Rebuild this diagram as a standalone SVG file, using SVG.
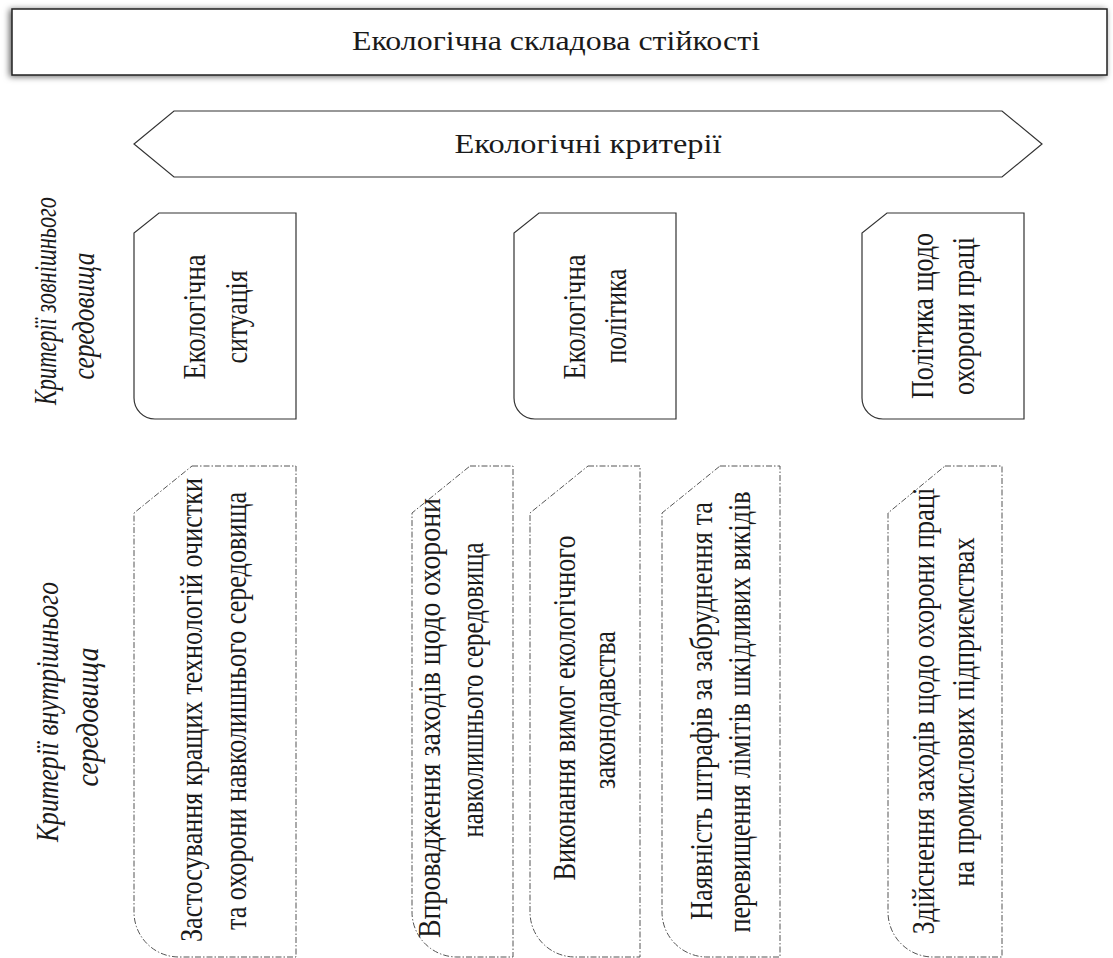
<svg xmlns="http://www.w3.org/2000/svg" width="1113" height="958" viewBox="0 0 1113 958">
<defs>
<filter id="sh" x="-5%" y="-40%" width="110%" height="180%">
<feDropShadow dx="-2" dy="1" stdDeviation="3" flood-color="#000" flood-opacity="0.6"/>
</filter>
</defs>
<style>
text{font-family:'Liberation Serif','Times New Roman',serif;fill:#1a1a1a;}
.h{font-size:27px;text-anchor:middle;}
.v{font-size:32px;text-anchor:middle;}
.i{font-size:31px;font-style:italic;text-anchor:middle;}
.solid{fill:#fff;stroke:#333;stroke-width:1.2;}
.dash{fill:#fff;stroke:#555;stroke-width:1;stroke-dasharray:6 2 1.5 2;}
</style>
<rect width="1113" height="958" fill="#fff"/>
<g id="title">
<rect x="12" y="9" width="1095" height="66" fill="#fff" stroke="#222" stroke-width="1.5" filter="url(#sh)"/>
<text class="h" x="556" y="50" textLength="408" lengthAdjust="spacingAndGlyphs">Екологічна складова стійкості</text>
</g>
<g id="criteria">
<polygon points="174,111 1002,111 1042,144 1002,177 174,177 134,144" fill="#fff" stroke="#333" stroke-width="1.2"/>
<text class="h" x="588" y="153" textLength="267" lengthAdjust="spacingAndGlyphs">Екологічні критерії</text>
</g>
<g id="label-external">
<text class="i" transform="translate(56,301) rotate(-90)" textLength="208" lengthAdjust="spacingAndGlyphs">Критерії зовнішнього</text>
<text class="i" transform="translate(94,316) rotate(-90)" textLength="127" lengthAdjust="spacingAndGlyphs">середовища</text>
</g>
<g id="label-internal">
<text class="i" transform="translate(58,712) rotate(-90)" textLength="260" lengthAdjust="spacingAndGlyphs">Критерії внутрішнього</text>
<text class="i" transform="translate(98,717) rotate(-90)" textLength="139" lengthAdjust="spacingAndGlyphs">середовища</text>
</g>
<g id="ext-1">
<path class="solid" d="M159,213 H296 V419 H155 A21 21 0 0 1 134,398 V233 Z"/>
<text class="v" transform="translate(205,317) rotate(-90)" textLength="125" lengthAdjust="spacingAndGlyphs">Екологічна</text>
<text class="v" transform="translate(247,317) rotate(-90)" textLength="93" lengthAdjust="spacingAndGlyphs">ситуація</text>
</g>
<g id="ext-2">
<path class="solid" d="M539,213 H676 V419 H535 A21 21 0 0 1 514,398 V233 Z"/>
<text class="v" transform="translate(585,317) rotate(-90)" textLength="125" lengthAdjust="spacingAndGlyphs">Екологічна</text>
<text class="v" transform="translate(626,316) rotate(-90)" textLength="95" lengthAdjust="spacingAndGlyphs">політика</text>
</g>
<g id="ext-3">
<path class="solid" d="M887,213 H1024 V419 H883 A21 21 0 0 1 862,398 V233 Z"/>
<text class="v" transform="translate(933,316) rotate(-90)" textLength="166" lengthAdjust="spacingAndGlyphs">Політика щодо</text>
<text class="v" transform="translate(974,316) rotate(-90)" textLength="158" lengthAdjust="spacingAndGlyphs">охорони праці</text>
</g>
<g id="int-1">
<path class="dash" d="M192,466 H296 V957 H179 A45 45 0 0 1 134,912 V513 Z"/>
<text class="v" transform="translate(202,710) rotate(-90)" textLength="464" lengthAdjust="spacingAndGlyphs">Застосування кращих технологій очистки</text>
<text class="v" transform="translate(246,711) rotate(-90)" textLength="438" lengthAdjust="spacingAndGlyphs">та охорони навколишнього середовища</text>
</g>
<g id="int-2">
<path class="dash" d="M470,466 H513 V957 H457 A45 45 0 0 1 412,912 V513 Z"/>
<text class="v" transform="translate(440,718) rotate(-90)" textLength="440" lengthAdjust="spacingAndGlyphs">Впровадження заходів щодо охорони</text>
<text class="v" transform="translate(483,690) rotate(-90)" textLength="295" lengthAdjust="spacingAndGlyphs">навколишнього середовища</text>
</g>
<g id="int-3">
<path class="dash" d="M588,466 H640 V957 H575 A45 45 0 0 1 530,912 V513 Z"/>
<text class="v" transform="translate(575,708) rotate(-90)" textLength="345" lengthAdjust="spacingAndGlyphs">Виконання вимог екологічного</text>
<text class="v" transform="translate(615,710) rotate(-90)" textLength="158" lengthAdjust="spacingAndGlyphs">законодавства</text>
</g>
<g id="int-4">
<path class="dash" d="M720,466 H780 V957 H707 A45 45 0 0 1 662,912 V513 Z"/>
<text class="v" transform="translate(712,711) rotate(-90)" textLength="418" lengthAdjust="spacingAndGlyphs">Наявність штрафів за забруднення та</text>
<text class="v" transform="translate(750,712) rotate(-90)" textLength="441" lengthAdjust="spacingAndGlyphs">перевищення лімітів шкідливих викідів</text>
</g>
<g id="int-5">
<path class="dash" d="M945,466 H1002 V957 H933 A45 45 0 0 1 888,912 V513 Z"/>
<text class="v" transform="translate(934,711) rotate(-90)" textLength="447" lengthAdjust="spacingAndGlyphs">Здійснення заходів щодо охорони праці</text>
<text class="v" transform="translate(974,712) rotate(-90)" textLength="349" lengthAdjust="spacingAndGlyphs">на промислових підприємствах</text>
</g>
<g id="connectors"></g>
</svg>
